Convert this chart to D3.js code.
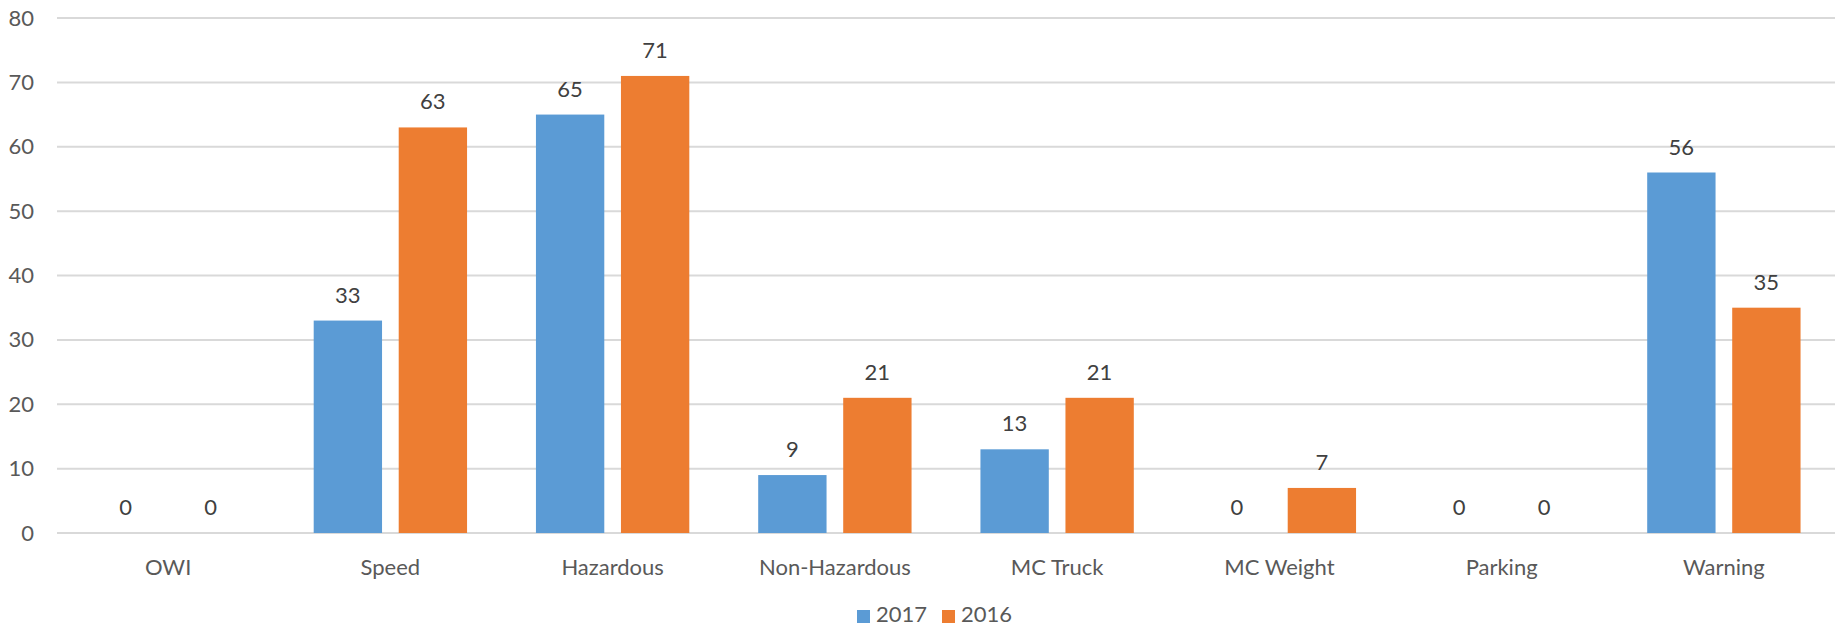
<!DOCTYPE html>
<html>
<head>
<meta charset="utf-8">
<script src="https://cdn.jsdelivr.net/npm/d3@7"></script>
<style>
  body { margin: 0; background: #fff; }
  svg text { font-family: Lato, "Open Sans", sans-serif; }
</style>
</head>
<body>
<svg id="chart"></svg>
<script>
// 数据
const categories = ["OWI", "Speed", "Hazardous", "Non-Hazardous", "MC Truck", "MC Weight", "Parking", "Warning"];
const seriesNames = ["2017", "2016"];
const values2017 = [0, 33, 65, 9, 13, 0, 0, 56];
const values2016 = [0, 63, 71, 21, 21, 7, 0, 35];
const yTicks = [0, 10, 20, 30, 40, 50, 60, 70, 80];

const width = 1839;
const height = 628;
const margin = { top: 18, right: 4, bottom: 95, left: 57 };
const colors = ["#5B9BD5", "#ED7D31"];
const fontSize = 22;

const svg = d3.select("#chart").attr("width", width).attr("height", height);

const rows = categories.map((c, i) => ({ cat: c, vals: [values2017[i], values2016[i]] }));

const x = d3.scaleBand()
  .domain(categories)
  .range([margin.left, width - margin.right])
  .paddingInner(0.31)
  .paddingOuter(0.155);
const x1 = d3.scaleBand()
  .domain(seriesNames)
  .range([0, x.bandwidth()])
  .paddingInner(0.196);
const y = d3.scaleLinear()
  .domain([0, 80])
  .range([height - margin.bottom, margin.top]);

// 网格线
svg.append("g")
  .selectAll("line")
  .data(yTicks)
  .join("line")
  .attr("x1", margin.left)
  .attr("x2", width - margin.right)
  .attr("y1", d => y(d))
  .attr("y2", d => y(d))
  .attr("stroke", "#d9d9d9")
  .attr("stroke-width", 2);

// y axis labels
const axisLeft = d3.axisLeft(y).tickValues(yTicks).tickSize(0).tickPadding(0);
svg.append("g")
  .attr("transform", "translate(" + 34 + ",0)")
  .call(axisLeft)
  .call(g => g.select(".domain").remove())
  .selectAll("text")
  .attr("font-size", fontSize)
  .attr("fill", "#595959")
  .attr("font-family", "Lato, 'Open Sans', sans-serif");

// x axis labels
const axisBottom = d3.axisBottom(x).tickSize(0).tickPadding(26);
svg.append("g")
  .attr("transform", "translate(0," + y(0) + ")")
  .call(axisBottom)
  .call(g => g.select(".domain").remove())
  .selectAll("text")
  .attr("font-size", fontSize)
  .attr("fill", "#595959")
  .attr("font-family", "Lato, 'Open Sans', sans-serif");

// bars
const gbody = svg.append("g")
  .selectAll("g")
  .data(rows)
  .join("g")
  .attr("transform", d => "translate(" + x(d.cat) + ",0)");

gbody.selectAll("rect")
  .data(d => d.vals.map((v, i) => ({ key: seriesNames[i], v, i })))
  .join("rect")
  .attr("x", d => x1(d.key))
  .attr("width", x1.bandwidth())
  .attr("y", d => y(d.v))
  .attr("height", d => y(0) - y(d.v))
  .attr("fill", d => colors[d.i]);

gbody.selectAll("text")
  .data(d => d.vals.map((v, i) => ({ key: seriesNames[i], v, i })))
  .join("text")
  .attr("x", d => x1(d.key) + x1.bandwidth() / 2)
  .attr("y", d => y(d.v) - 18)
  .attr("text-anchor", "middle")
  .attr("font-size", fontSize)
  .attr("fill", "#404040")
  .text(d => d.v);

// legend
const legend = svg.append("g").attr("transform", "translate(857,610)");
const items = legend.selectAll("g")
  .data(seriesNames)
  .join("g")
  .attr("transform", (d, i) => "translate(" + i * 85 + ",0)");
items.append("rect")
  .attr("width", 13)
  .attr("height", 13)
  .attr("fill", (d, i) => colors[i]);
items.append("text")
  .attr("x", 19)
  .attr("y", 12)
  .attr("font-size", fontSize)
  .attr("fill", "#595959")
  .text(d => d);
</script>
</body>
</html>
